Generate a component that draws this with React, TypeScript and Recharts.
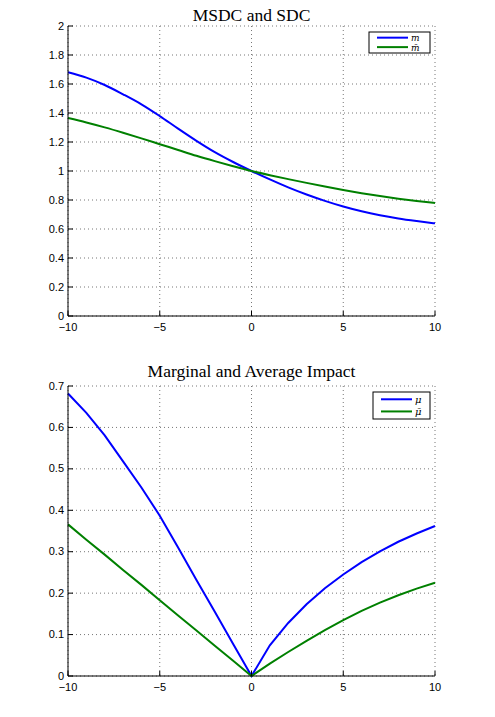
import React from 'react';
import {
  LineChart,
  Line,
  XAxis,
  YAxis,
  CartesianGrid
} from 'recharts';

// x positions sampled from the figure
const xs = [-10, -9, -8, -7, -6, -5, -4, -3, -2, -1, 0, 1, 2, 3, 4, 5, 6, 7, 8, 9, 10];

// top panel: MSDC (m) and SDC (m bar)
const msdc = [1.681, 1.644, 1.593, 1.529, 1.46, 1.379, 1.292, 1.208, 1.13, 1.062, 1.0, 0.942, 0.887, 0.838, 0.794, 0.755, 0.722, 0.695, 0.673, 0.655, 0.639];
const sdc = [1.365, 1.335, 1.301, 1.264, 1.225, 1.185, 1.145, 1.105, 1.068, 1.033, 1.0, 0.971, 0.944, 0.918, 0.893, 0.869, 0.847, 0.827, 0.809, 0.793, 0.779];

// bottom panel: marginal (mu) and average (mu bar) impact
const marginal = [0.682, 0.635, 0.581, 0.518, 0.455, 0.387, 0.31, 0.232, 0.155, 0.077, 0, 0.074, 0.128, 0.173, 0.212, 0.245, 0.275, 0.301, 0.324, 0.344, 0.362];
const average = [0.366, 0.329, 0.293, 0.256, 0.22, 0.183, 0.146, 0.11, 0.073, 0.037, 0, 0.03, 0.058, 0.085, 0.111, 0.135, 0.157, 0.177, 0.195, 0.211, 0.225];

const xTicks = [-10, -5, 0, 5, 10];
const topYTicks = [0, 0.2, 0.4, 0.6, 0.8, 1, 1.2, 1.4, 1.6, 1.8, 2];
const bottomYTicks = [0, 0.1, 0.2, 0.3, 0.4, 0.5, 0.6, 0.7];

const topNames = ['m', 'm\u0304'];
const bottomNames = ['\u03bc', '\u03bc\u0304'];
const colors = ['#0000ff', '#008000'];

const sansFont = '"Liberation Sans", Arial, sans-serif';
const serifFont = '"Liberation Serif", "DejaVu Serif", serif';
const mathFont = '"DejaVu Serif", "Liberation Serif", serif';

const fmt = (v: number) => (v < 0 ? '\u2212' + Math.abs(v) : String(v));

const BottomTick = (props: any) => {
  const { x, y, payload } = props;
  return (
    <g>
      <line x1={x} x2={x} y1={y} y2={y - 5} stroke="#000" />
      <text x={x} y={y + 15} textAnchor="middle" fontSize={11} fontFamily={sansFont} fill="#000">
        {fmt(payload.value)}
      </text>
    </g>
  );
};

const TopTick = (props: any) => {
  const { x, y } = props;
  return <line x1={x} x2={x} y1={y} y2={y + 5} stroke="#000" />;
};

const LeftTick = (props: any) => {
  const { x, y, payload } = props;
  return (
    <g>
      <line x1={x} x2={x + 5} y1={y} y2={y} stroke="#000" />
      <text x={x - 4} y={y + 3.5} textAnchor="end" fontSize={11} fontFamily={sansFont} fill="#000">
        {fmt(payload.value)}
      </text>
    </g>
  );
};

const RightTick = (props: any) => {
  const { x, y } = props;
  return <line x1={x} x2={x - 5} y1={y} y2={y} stroke="#000" />;
};

interface PanelProps {
  title: string;
  titleY: number;
  a: number[];
  b: number[];
  names: string[];
  yMax: number;
  yTicks: number[];
  curve: 'monotone' | 'linear';
  legend: { x: number; y: number; w: number; h: number };
  legendFont: number;
}

const Panel: React.FC<PanelProps> = ({ title, titleY, a, b, names, yMax, yTicks, curve, legend, legendFont }) => {
  const data = xs.map((x, i) => ({ x, a: a[i], b: b[i] }));
  return (
    <LineChart width={495} height={357} data={data} margin={{ top: 26, right: 60, bottom: 11, left: 28 }}>
      <CartesianGrid stroke="#777" strokeDasharray="1 3" />
      <XAxis
        dataKey="x"
        type="number"
        domain={[-10, 10]}
        ticks={xTicks}
        height={30}
        tickSize={0}
        tickMargin={0}
        tickLine={false}
        axisLine={{ stroke: '#000' }}
        tick={<BottomTick />}
        interval={0}
      />
      <XAxis
        xAxisId="top"
        orientation="top"
        type="number"
        domain={[-10, 10]}
        ticks={xTicks}
        height={0}
        tickSize={0}
        tickMargin={0}
        tickLine={false}
        axisLine={{ stroke: '#000' }}
        tick={<TopTick />}
        interval={0}
      />
      <YAxis
        type="number"
        domain={[0, yMax]}
        ticks={yTicks}
        width={40}
        tickSize={0}
        tickMargin={0}
        tickLine={false}
        axisLine={{ stroke: '#000' }}
        tick={<LeftTick />}
        interval={0}
      />
      <YAxis
        yAxisId="r"
        orientation="right"
        type="number"
        domain={[0, yMax]}
        ticks={yTicks}
        width={0}
        tickSize={0}
        tickMargin={0}
        tickLine={false}
        axisLine={{ stroke: '#000' }}
        tick={<RightTick />}
        interval={0}
      />
      <Line type={curve} dataKey="a" stroke={colors[0]} strokeWidth={2} dot={false} isAnimationActive={false} />
      <Line type={curve} dataKey="b" stroke={colors[1]} strokeWidth={2} dot={false} isAnimationActive={false} />
      <text x={251.5} y={titleY} textAnchor="middle" fontSize={17.5} fontFamily={serifFont} fill="#000">
        {title}
      </text>
      <g>
        <rect x={legend.x} y={legend.y} width={legend.w} height={legend.h} fill="#fff" stroke="#000" strokeWidth={1} />
        {names.map((n, i) => {
          const ly = legend.y + legend.h * (i === 0 ? 0.27 : 0.72);
          return (
            <g key={n}>
              <line x1={legend.x + 8} x2={legend.x + 39} y1={ly} y2={ly} stroke={colors[i]} strokeWidth={2} />
              <text x={legend.x + 42} y={ly + 3.5} fontSize={legendFont} fontStyle="italic" fontFamily={mathFont} fill="#000">
                {n}
              </text>
            </g>
          );
        })}
      </g>
    </LineChart>
  );
};

export default function App() {
  return (
    <div style={{ position: 'absolute', left: 0, top: 0, width: 495, height: 717, background: '#fff' }}>
      <div style={{ position: 'absolute', left: 0, top: 0 }}>
        <Panel
          title="MSDC and SDC"
          titleY={21}
          a={msdc}
          b={sdc}
          names={topNames}
          yMax={2}
          yTicks={topYTicks}
          curve="monotone"
          legend={{ x: 369, y: 32, w: 61, h: 21 }}
          legendFont={9}
        />
      </div>
      <div style={{ position: 'absolute', left: 0, top: 360 }}>
        <Panel
          title="Marginal and Average Impact"
          titleY={17}
          a={marginal}
          b={average}
          names={bottomNames}
          yMax={0.7}
          yTicks={bottomYTicks}
          curve="linear"
          legend={{ x: 373, y: 32, w: 57, h: 27 }}
          legendFont={10}
        />
      </div>
    </div>
  );
}
